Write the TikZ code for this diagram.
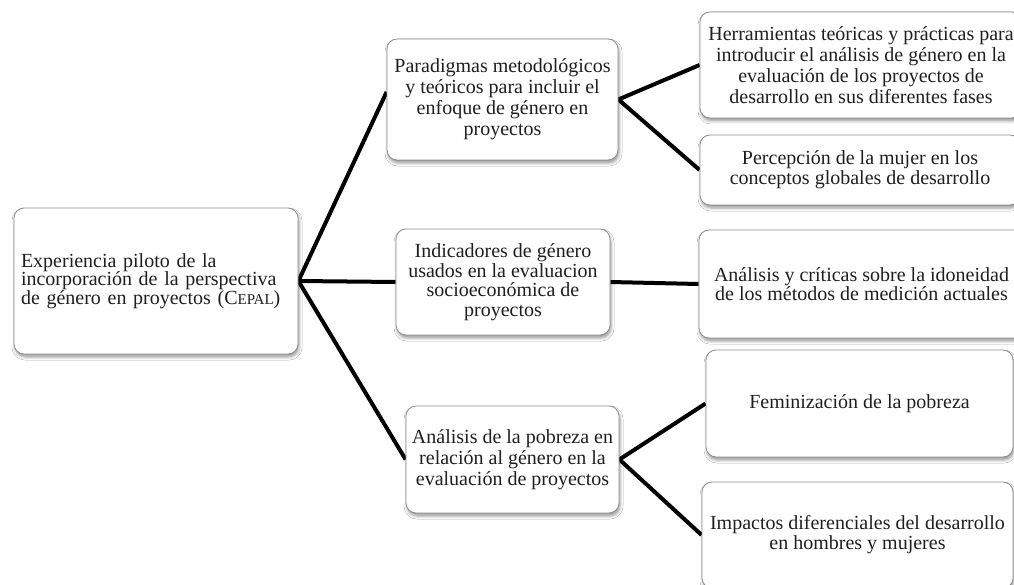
\documentclass[tikz,border=0pt]{standalone}
\usepackage{fontspec}
\setmainfont{Liberation Serif}
\usetikzlibrary{shadows.blur,backgrounds}
\begin{document}
\begin{tikzpicture}[x=1pt,y=-1pt,
  box/.style={draw=black!45, line width=0.8pt, fill=white, rounded corners=10pt,
    align=center, inner sep=0pt, text=black!88,
    blur shadow={shadow xshift=1pt, shadow yshift=-3pt, shadow blur radius=3pt, shadow opacity=40}},
  link/.style={line width=4pt, draw=black}]
\useasboundingbox (0,0) rectangle (1014,585);
\clip (0,0) rectangle (1014,585);

\node[box, minimum width=284pt, minimum height=146pt, text width=270pt, align=left,
  font=\fontsize{20}{18.5}\selectfont] (root) at (156,281)
  {Experiencia piloto de la\\ incorporación de la perspectiva\\ de género en proyectos (C{\fontsize{15}{15}\selectfont EPAL})};

\node[box, minimum width=231pt, minimum height=121pt, font=\fontsize{20}{21}\selectfont] (m1) at (502.5,99.5)
  {Paradigmas metodológicos\\ y teóricos para incluir el\\ enfoque de género en\\ proyectos};
\node[box, minimum width=214pt, minimum height=106pt, font=\fontsize{20}{19.5}\selectfont] (m2) at (503,282)
  {Indicadores de género\\ usados en la evaluacion\\ socioeconómica de\\ proyectos};
\node[box, minimum width=213pt, minimum height=107pt, font=\fontsize{20}{21}\selectfont] (m3) at (512.5,459.5)
  {Análisis de la pobreza en\\ relación al género en la\\ evaluación de proyectos};

\node[box, minimum width=322pt, minimum height=106pt, font=\fontsize{20}{21}\selectfont] (r1) at (861,65)
  {Herramientas teóricas y prácticas para\\ introducir el análisis de género en la\\ evaluación de los proyectos de\\ desarrollo en sus diferentes fases};
\node[box, minimum width=320pt, minimum height=70pt, font=\fontsize{20}{20}\selectfont] (r2) at (860,170)
  {Percepción de la mujer en los\\ conceptos globales de desarrollo};
\node[box, minimum width=325pt, minimum height=108pt, font=\fontsize{20}{19.5}\selectfont] (r3) at (861.5,284)
  {Análisis y críticas sobre la idoneidad\\ de los métodos de medición actuales};
\node[box, minimum width=307pt, minimum height=107pt, font=\fontsize{20}{20}\selectfont] (r4) at (859.5,403.5)
  {Feminización de la pobreza};
\node[box, minimum width=311pt, minimum height=106pt, font=\fontsize{20}{20}\selectfont] (r5) at (857.5,535)
  {Impactos diferenciales del desarrollo\\ en hombres y mujeres};

\begin{pgfonlayer}{background}
  \fill[white] (0,0) rectangle (1014,585);
  \draw[link] (root.east) -- ([yshift=7.5pt]m1.west);
  \draw[link] (root.east) -- (m2.west);
  \draw[link] (root.east) -- (m3.west);
  \draw[link] (m1.east) -- (r1.west);
  \draw[link] (m1.east) -- (r2.west);
  \draw[link] (m2.east) -- (r3.west);
  \draw[link] (m3.east) -- (r4.west);
  \draw[link] (m3.east) -- (r5.west);
\end{pgfonlayer}
\end{tikzpicture}
\end{document}
